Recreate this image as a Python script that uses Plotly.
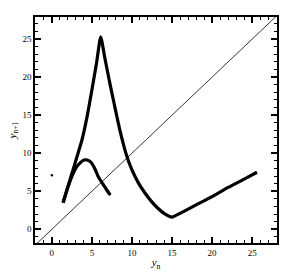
import plotly.graph_objects as go

# main resonance-like curve
main_x = [1.4, 2.0, 2.7, 3.3, 3.75, 4.4, 5.0, 5.6, 6.1, 6.6, 7.2, 7.8, 8.5, 9.3, 10.0, 10.8, 11.6, 12.4, 13.2, 14.0, 15.0, 16.0, 18.0, 20.0, 22.0, 24.0, 25.6]
main_y = [3.5, 5.6, 8.0, 10.1, 11.7, 14.8, 18.3, 22.0, 25.3, 22.6, 19.4, 16.4, 13.0, 9.8, 7.8, 6.1, 4.8, 3.7, 2.8, 2.1, 1.6, 2.1, 3.2, 4.3, 5.5, 6.6, 7.5]

# hump curve
hump_x = [1.4, 2.0, 2.6, 3.1, 3.6, 4.0, 4.4, 4.9, 5.4, 5.8, 6.4, 6.9, 7.3]
hump_y = [3.5, 5.5, 7.2, 8.2, 8.8, 9.1, 9.1, 8.8, 7.9, 6.9, 5.9, 5.1, 4.5]

# identity line y = x
diag_x = [-3, 30]
diag_y = [-3, 30]

# isolated point
dot_x = [0.0]
dot_y = [7.1]

tick_vals = [0, 5, 10, 15, 20, 25]
tick_text = ["0", "5", "10", "15", "20", "25"]

fig = go.Figure()
fig.add_trace(go.Scatter(x=diag_x, y=diag_y, mode="lines",
                         line=dict(color="black", width=0.8), showlegend=False))
fig.add_trace(go.Scatter(x=main_x, y=main_y, mode="lines",
                         line=dict(color="black", width=3.2, shape="spline", smoothing=0.5), showlegend=False))
fig.add_trace(go.Scatter(x=hump_x, y=hump_y, mode="lines",
                         line=dict(color="black", width=3.2, shape="spline", smoothing=0.6), showlegend=False))
fig.add_trace(go.Scatter(x=dot_x, y=dot_y, mode="markers",
                         marker=dict(color="black", size=2.5), showlegend=False))

axis_common = dict(
    showgrid=False, zeroline=False, showline=True, linecolor="black", linewidth=1.5,
    mirror="allticks", ticks="inside", ticklen=6, tickwidth=1.5, tickcolor="black",
    tickvals=tick_vals, ticktext=tick_text, automargin=False,
    minor=dict(dtick=1, ticks="inside", ticklen=3, tickwidth=1.2, tickcolor="black", showgrid=False),
    tickfont=dict(family="Liberation Serif", size=9, color="black"),
)

fig.update_xaxes(range=[-2.1, 28.1],
                 title=dict(text="<i>y</i><sub>n</sub>", font=dict(family="Liberation Serif", size=11, color="black"), standoff=2),
                 **axis_common)
fig.update_yaxes(range=[-1.8, 27.9],
                 title=dict(text="<i>y</i><sub>n+1</sub>", font=dict(family="Liberation Serif", size=11, color="black"), standoff=4),
                 **axis_common)

fig.update_layout(width=290, height=273,
                  margin=dict(l=35, r=13, t=17, b=30),
                  paper_bgcolor="white", plot_bgcolor="white")

fig.write_html("out.html", config={"displayModeBar": False},
               post_script="document.body.style.margin='0';document.body.style.overflow='hidden';")
